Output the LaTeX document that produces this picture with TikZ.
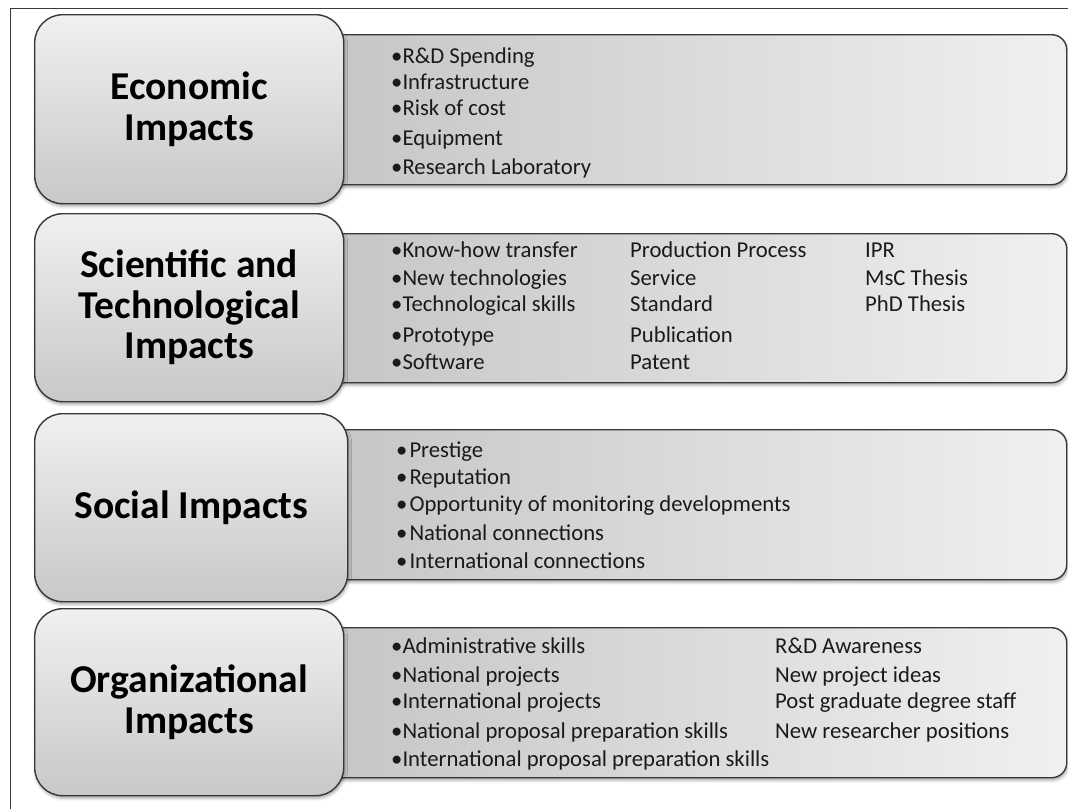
\documentclass[tikz,border=0pt]{standalone}
\usepackage{fontspec}
\setmainfont{Carlito}
\usetikzlibrary{shadows.blur}
\definecolor{frameline}{HTML}{3A3A3A}
\definecolor{boxline}{HTML}{383838}
\definecolor{headtop}{HTML}{F0F0F0}
\definecolor{headbottom}{HTML}{C8C8C8}
\definecolor{listleft}{HTML}{C4C4C4}
\definecolor{listright}{HTML}{F0F0F0}
\definecolor{inktext}{HTML}{1A1A1A}
\tikzset{
  boxshadow/.style={blur shadow={shadow xshift=1pt, shadow yshift=-2.5pt,
      shadow blur radius=3pt, shadow opacity=35}},
  headbox/.style={draw=boxline, line width=1.4pt, rounded corners=28pt,
      top color=headtop, bottom color=headbottom, boxshadow,
      anchor=north west, inner sep=0pt, align=center, text=black,
      font=\fontsize{39.5}{40.5}\selectfont\bfseries},
  listbox/.style={draw=boxline, line width=1.4pt, rounded corners=15pt,
      left color=listleft, right color=listright, boxshadow,
      anchor=north west, inner sep=0pt},
  item/.style={anchor=base west, inner sep=0pt, text=inktext,
      font=\fontsize{22.7}{26}\selectfont},
}
\newcommand{\bul}{\textbullet}
\begin{document}
\begin{tikzpicture}[x=1pt, y=-1pt]
\useasboundingbox (0,0) rectangle (1068,809);
% outer frame
\draw[frameline, line width=1pt] (10.5,809) |- (1068,8.5);

% list panels (drawn first, partly covered by the heading boxes)
\node[listbox, minimum width=766pt, minimum height=150pt] (econL) at (300,34) {};
\node[listbox, minimum width=766pt, minimum height=149pt] (sciL)  at (300,233) {};
\node[listbox, minimum width=766pt, minimum height=150pt] (socL)  at (300,429) {};
\node[listbox, minimum width=766pt, minimum height=150pt] (orgL)  at (300,627) {};

% heading boxes
\node[headbox, minimum width=309pt, minimum height=189pt] (econ) at (34,14)
  {Economic\\Impacts};
\node[headbox, minimum width=309pt, minimum height=188pt] (sci) at (34,213)
  {Scientific and\\Technological\\Impacts};
\node[headbox, minimum width=313pt, minimum height=188pt] (soc) at (34,413)
  {Social Impacts};
\node[headbox, minimum width=309pt, minimum height=187pt] (org) at (34,608)
  {Organizational\\Impacts};

% economic items
\node[item] (e1) at (391,63)  {\bul R\&D Spending};
\node[item] (e2) at (391,89)  {\bul Infrastructure};
\node[item] (e3) at (391,115) {\bul Risk of cost};
\node[item] (e4) at (391,145) {\bul Equipment};
\node[item] (e5) at (391,174) {\bul Research Laboratory};

% scientific and technological items
\node[item] (s1) at (391,257) {\bul Know-how transfer};
\node[item] (s2) at (391,285) {\bul New technologies};
\node[item] (s3) at (391,311) {\bul Technological skills};
\node[item] (s4) at (391,342) {\bul Prototype};
\node[item] (s5) at (391,369) {\bul Software};
\node[item] (s6) at (630,257) {Production Process};
\node[item] (s7) at (630,285) {Service};
\node[item] (s8) at (630,311) {Standard};
\node[item] (s9) at (630,342) {Publication};
\node[item] (s10) at (630,369) {Patent};
\node[item] (s11) at (865,257) {IPR};
\node[item] (s12) at (865,285) {MsC Thesis};
\node[item] (s13) at (865,311) {PhD Thesis};

% social items
\node[item] (c1) at (396,457) {\bul\hspace{2pt}Prestige};
\node[item] (c2) at (396,484) {\bul\hspace{2pt}Reputation};
\node[item] (c3) at (396,511) {\bul\hspace{2pt}Opportunity of monitoring developments};
\node[item] (c4) at (396,540) {\bul\hspace{2pt}National connections};
\node[item] (c5) at (396,568) {\bul\hspace{2pt}International connections};

% organizational items
\node[item] (o1) at (391,653) {\bul Administrative skills};
\node[item] (o2) at (391,682) {\bul National projects};
\node[item] (o3) at (391,708) {\bul International projects};
\node[item] (o4) at (391,738) {\bul National proposal preparation skills};
\node[item] (o5) at (391,766) {\bul International proposal preparation skills};
\node[item] (o6) at (775,653) {R\&D Awareness};
\node[item] (o7) at (775,682) {New project ideas};
\node[item] (o8) at (775,708) {Post graduate degree staff};
\node[item] (o9) at (775,738) {New researcher positions};
\end{tikzpicture}
\end{document}
